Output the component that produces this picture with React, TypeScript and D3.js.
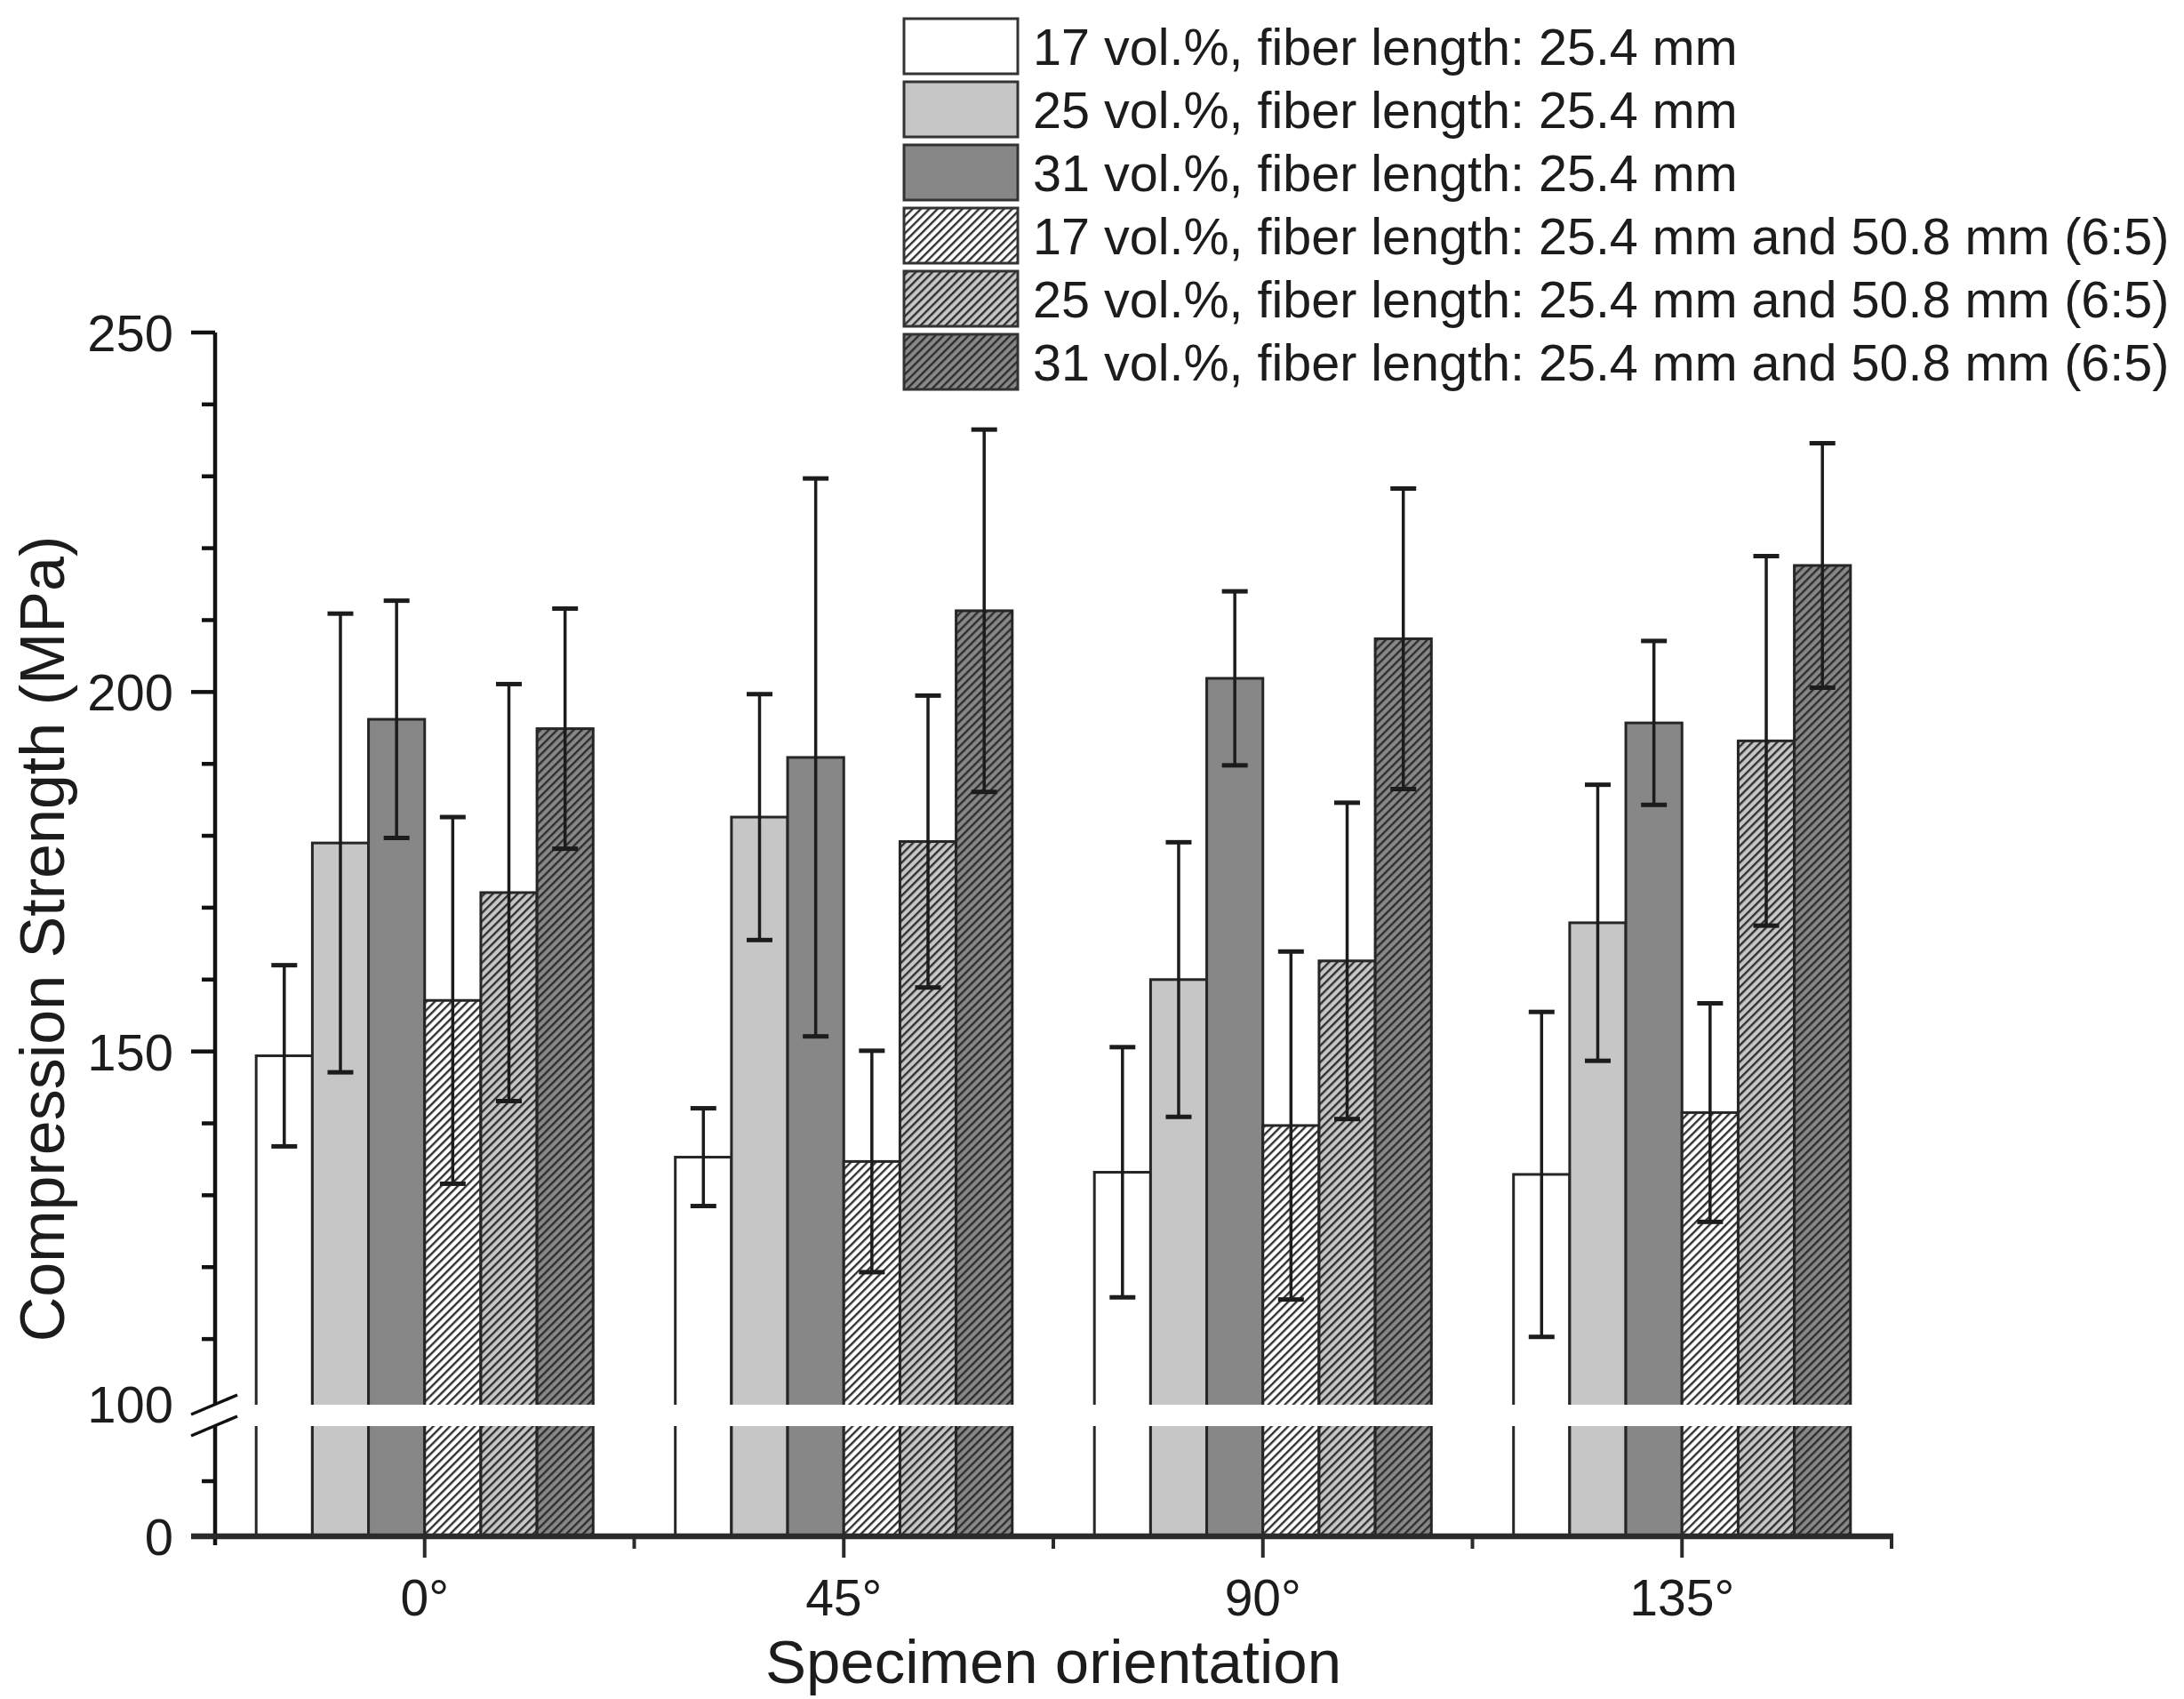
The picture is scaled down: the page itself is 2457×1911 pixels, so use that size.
import React from "react";
import * as d3 from "d3";

const WIDTH = 2457;
const HEIGHT = 1911;

const categories = ["0°", "45°", "90°", "135°"];
const seriesLabels = [
  "17 vol.%, fiber length: 25.4 mm",
  "25 vol.%, fiber length: 25.4 mm",
  "31 vol.%, fiber length: 25.4 mm",
  "17 vol.%, fiber length: 25.4 mm and 50.8 mm (6:5)",
  "25 vol.%, fiber length: 25.4 mm and 50.8 mm (6:5)",
  "31 vol.%, fiber length: 25.4 mm and 50.8 mm (6:5)",
];

// mean compression strength (MPa) per orientation
const v17Short = [149.4, 135.3, 133.2, 132.9];
const v25Short = [179.0, 182.6, 160.0, 167.9];
const v31Short = [196.2, 190.9, 201.9, 195.7];
const v17Mixed = [157.1, 134.7, 139.7, 141.5];
const v25Mixed = [172.1, 179.2, 162.6, 193.2];
const v31Mixed = [194.9, 211.3, 207.4, 217.6];

// standard deviations
const e17Short = [12.6, 6.8, 17.4, 22.6];
const e25Short = [31.9, 17.1, 19.1, 19.2];
const e31Short = [16.5, 38.8, 12.1, 11.4];
const e17Mixed = [25.5, 15.4, 24.2, 15.2];
const e25Mixed = [29.0, 20.3, 22.0, 25.7];
const e31Mixed = [16.7, 25.2, 20.9, 17.0];

const upperTicks = [150, 200, 250];
const upperMinor = [110, 120, 130, 140, 160, 170, 180, 190, 210, 220, 230, 240];
const lowerTicks = [0];
const lowerMinor = [50];

const seriesValues = [v17Short, v25Short, v31Short, v17Mixed, v25Mixed, v31Mixed];
const seriesErrors = [e17Short, e25Short, e31Short, e17Mixed, e25Mixed, e31Mixed];
const fills = ["#ffffff", "#c6c6c6", "#878787", "#ffffff", "#c6c6c6", "#878787"];
const hatched = [false, false, false, true, true, true];

const FONT = "'Liberation Sans', Arial, Helvetica, sans-serif";
const INK = "#1c1c1c";

const X0 = 242;
const X1 = 2128;
const BASE = 1728;
const GAP_TOP = 1580;
const GAP_BOTTOM = 1604;

export default function App() {
  const x = d3.scaleBand<string>().domain(categories).range([X0, X1]);
  const bw = x.bandwidth();
  const xs = d3
    .scaleBand<number>()
    .domain(d3.range(seriesLabels.length))
    .range([bw * 0.098, bw * 0.902]);

  const yUpper = d3.scaleLinear().domain([100, 250]).range([1587, 374]);
  const yLower = d3.scaleLinear().domain([0, 100]).range([BASE, GAP_BOTTOM]);
  const y = (v: number) => (v >= 100 ? yUpper(v) : yLower(v));

  const capW = 29;

  return (
    <div style={{ position: "absolute", left: 0, top: 0 }}>
      <svg width={WIDTH} height={HEIGHT} style={{ display: "block", background: "#fff" }}>
        <defs>
          {fills.map((f, i) => (
            <pattern
              key={i}
              id={`hatch-${i}`}
              patternUnits="userSpaceOnUse"
              width={6.6}
              height={6.6}
              patternTransform="rotate(45)"
            >
              <rect width={6.6} height={6.6} fill={f} />
              <line x1={1.2} y1={0} x2={1.2} y2={6.6} stroke="#2a2a2a" strokeWidth={2.3} />
            </pattern>
          ))}
        </defs>

        {/* bars */}
        {categories.map((c, ci) => (
          <g key={c} transform={`translate(${x(c)},0)`}>
            {seriesValues.map((vals, si) => (
              <rect
                key={si}
                x={xs(si)}
                y={y(vals[ci])}
                width={xs.bandwidth()}
                height={BASE - y(vals[ci])}
                fill={hatched[si] ? `url(#hatch-${si})` : fills[si]}
                stroke="#262626"
                strokeWidth={3}
              />
            ))}
            {seriesValues.map((vals, si) => {
              const cx = (xs(si) as number) + xs.bandwidth() / 2;
              const hi = y(vals[ci] + seriesErrors[si][ci]);
              const lo = y(vals[ci] - seriesErrors[si][ci]);
              return (
                <g key={`e${si}`} stroke={INK}>
                  <line x1={cx} x2={cx} y1={hi} y2={lo} strokeWidth={3.5} />
                  <line x1={cx - capW / 2} x2={cx + capW / 2} y1={hi} y2={hi} strokeWidth={5} />
                  <line x1={cx - capW / 2} x2={cx + capW / 2} y1={lo} y2={lo} strokeWidth={5} />
                </g>
              );
            })}
          </g>
        ))}

        {/* axis break band */}
        <rect x={X0 + 3} y={GAP_TOP} width={X1 - X0} height={GAP_BOTTOM - GAP_TOP} fill="#fff" />

        {/* y axis */}
        <g stroke="#111" strokeWidth={4.5}>
          <line x1={X0} x2={X0} y1={374} y2={GAP_TOP} />
          <line x1={X0} x2={X0} y1={GAP_BOTTOM} y2={BASE + 10} />
          {upperTicks.map((t) => (
            <line key={t} x1={X0 - 27} x2={X0} y1={yUpper(t)} y2={yUpper(t)} />
          ))}
          {upperMinor.map((t) => (
            <line key={t} x1={X0 - 15} x2={X0} y1={yUpper(t)} y2={yUpper(t)} />
          ))}
          {lowerMinor.map((t) => (
            <line key={t} x1={X0 - 15} x2={X0} y1={yLower(t)} y2={yLower(t)} />
          ))}
          <line x1={X0 - 27} y1={GAP_TOP + 11} x2={X0 + 25} y2={GAP_TOP - 11} strokeWidth={3.5} />
          <line x1={X0 - 27} y1={GAP_BOTTOM + 11} x2={X0 + 25} y2={GAP_BOTTOM - 11} strokeWidth={3.5} />
        </g>
        <g fontFamily={FONT} fontSize={58} fill={INK} textAnchor="end">
          {upperTicks.map((t) => (
            <text key={t} x={195} y={yUpper(t)} dy="0.36em">
              {t}
            </text>
          ))}
          <text x={195} y={1579} dy="0.36em">
            100
          </text>
          {lowerTicks.map((t) => (
            <text key={t} x={195} y={yLower(t)} dy="0.36em">
              {t}
            </text>
          ))}
        </g>

        {/* x axis */}
        <g stroke="#2b2b2b">
          <line x1={X0 - 27} x2={X1 + 2} y1={BASE} y2={BASE} strokeWidth={6.5} />
          {categories.map((c) => (
            <line
              key={c}
              x1={(x(c) as number) + bw / 2}
              x2={(x(c) as number) + bw / 2}
              y1={BASE}
              y2={BASE + 24}
              strokeWidth={4}
            />
          ))}
          {categories.slice(1).map((c) => (
            <line key={c} x1={x(c)} x2={x(c)} y1={BASE} y2={BASE + 14} strokeWidth={4} />
          ))}
          <line x1={X1} x2={X1} y1={BASE} y2={BASE + 14} strokeWidth={4} />
        </g>
        <g fontFamily={FONT} fontSize={57} fill={INK} textAnchor="middle">
          {categories.map((c) => (
            <text key={c} x={(x(c) as number) + bw / 2} y={1817}>
              {c}
            </text>
          ))}
        </g>

        {/* axis titles */}
        <text
          x={(X0 + X1) / 2}
          y={1893}
          fontFamily={FONT}
          fontSize={69}
          fill={INK}
          textAnchor="middle"
        >
          Specimen orientation
        </text>
        <text
          transform={`translate(72,1056) rotate(-90)`}
          fontFamily={FONT}
          fontSize={70}
          fill={INK}
          textAnchor="middle"
        >
          Compression Strength (MPa)
        </text>

        {/* legend */}
        {seriesLabels.map((lab, i) => {
          const cy = 52 + i * 71;
          return (
            <g key={lab}>
              <rect
                x={1017}
                y={cy - 31}
                width={128}
                height={62}
                fill={hatched[i] ? `url(#hatch-${i})` : fills[i]}
                stroke="#333"
                strokeWidth={3}
              />
              <text x={1162} y={cy} dy="0.36em" fontFamily={FONT} fontSize={57.5} fill={INK}>
                {lab}
              </text>
            </g>
          );
        })}
      </svg>
    </div>
  );
}
